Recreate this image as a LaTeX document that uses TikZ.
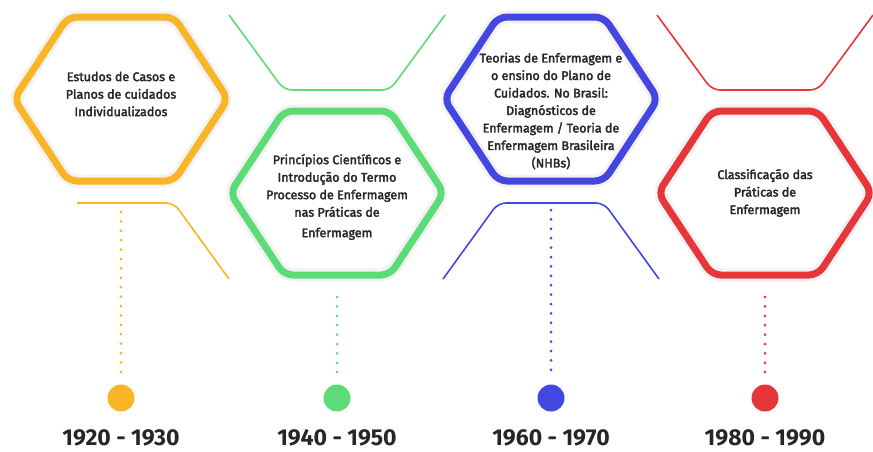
\documentclass[tikz,border=0pt]{standalone}
\usepackage{fontspec}
\setmainfont{Fira Sans}
\newfontfamily\grosso[FakeBold=2.6]{Fira Sans}
\usetikzlibrary{positioning}
\definecolor{amarelo}{HTML}{F8B526}
\definecolor{verde}{HTML}{5CDC77}
\definecolor{azul}{HTML}{4346E0}
\definecolor{vermelho}{HTML}{E7363A}
\definecolor{texto}{HTML}{262626}
\tikzset{
    hexagono/.style={line width=7pt, rounded corners=9pt, #1},
    sombra/.style={line width=13pt, rounded corners=10pt, gray!10},
    suporte/.style={line width=1.6pt, rounded corners=8pt, #1},
    pontilhado/.style={line width=3pt, line cap=round, dash pattern=on 0pt off 9.4pt, #1},
    ponto/.style={circle, fill=#1, minimum size=27pt, inner sep=0pt},
    rotulo/.style={text=texto, font=\grosso\fontsize{12.5}{17.5}\selectfont, align=center},
    ano/.style={text=black!85, inner sep=0pt, font=\fontsize{23}{23}\selectfont\bfseries},
}
\begin{document}
\begin{tikzpicture}[x=1pt, y=-1pt]
\useasboundingbox (0,0) rectangle (873,451);
% centros dos hexagonos
\coordinate (h1) at (121,99);
\coordinate (h2) at (337,193);
\coordinate (h3) at (551,99);
\coordinate (h4) at (765,193);
% hexagonos
\foreach \i/\cor in {1/amarelo, 2/verde, 3/azul, 4/vermelho} {
  \draw[sombra] ([yshift=82pt]h\i) -- ++(53,0) -- ++(54,82) -- ++(-54,82) -- ++(-106,0) -- ++(-54,-82) -- ++(54,-82) -- cycle;
  \draw[hexagono=\cor] ([yshift=82pt]h\i) -- ++(53,0) -- ++(54,82) -- ++(-54,82) -- ++(-106,0) -- ++(-54,-82) -- ++(54,-82) -- cycle;
}
% suportes
\draw[suporte=amarelo] ([xshift=-44pt, yshift=-104pt]h1) -- ++(97,0) -- ++(55,76);
\draw[suporte=verde] ([yshift=103pt]h2) ++(-108,-75) -- ++(55,75) -- ++(106,0) -- ++(55,-75);
\draw[suporte=azul] ([yshift=-104pt]h3) ++(-108,76) -- ++(55,-76) -- ++(106,0) -- ++(55,76);
\draw[suporte=vermelho] ([yshift=103pt]h4) ++(-108,-75) -- ++(55,75) -- ++(106,0) -- ++(55,-75);
% textos
\node[rotulo] (t1) at ([yshift=5pt]h1) {Estudos de Casos e\\Planos de cuidados\\Individualizados};
\node[rotulo] (t2) at ([yshift=-4pt]h2) {Princípios Científicos e\\Introdução do Termo\\Processo de Enfermagem\\nas Práticas de\\[3pt]Enfermagem};
\node[rotulo] (t3) at ([yshift=-12pt]h3) {Teorias de Enfermagem e\\o ensino do Plano de\\Cuidados. No Brasil:\\Diagnósticos de\\Enfermagem / Teoria de\\Enfermagem Brasileira\\(NHBs)};
\node[rotulo] (t4) at (h4) {Classificação das\\Práticas de\\Enfermagem};
% linha do tempo
\foreach \i/\x/\ini/\cor/\periodo in {1/121/212/amarelo/1920 - 1930, 2/337/297/verde/1940 - 1950, 3/551/210/azul/1960 - 1970, 4/765/297/vermelho/1980 - 1990} {
  \node[ponto=\cor] (p\i) at (\x,398) {};
  \coordinate (i\i) at (\x,\ini);
  \draw[pontilhado=\cor] (i\i) -- ([yshift=10pt]p\i.north);
  \node[ano, below=18pt of p\i] (a\i) {\periodo};
}
\end{tikzpicture}
\end{document}
